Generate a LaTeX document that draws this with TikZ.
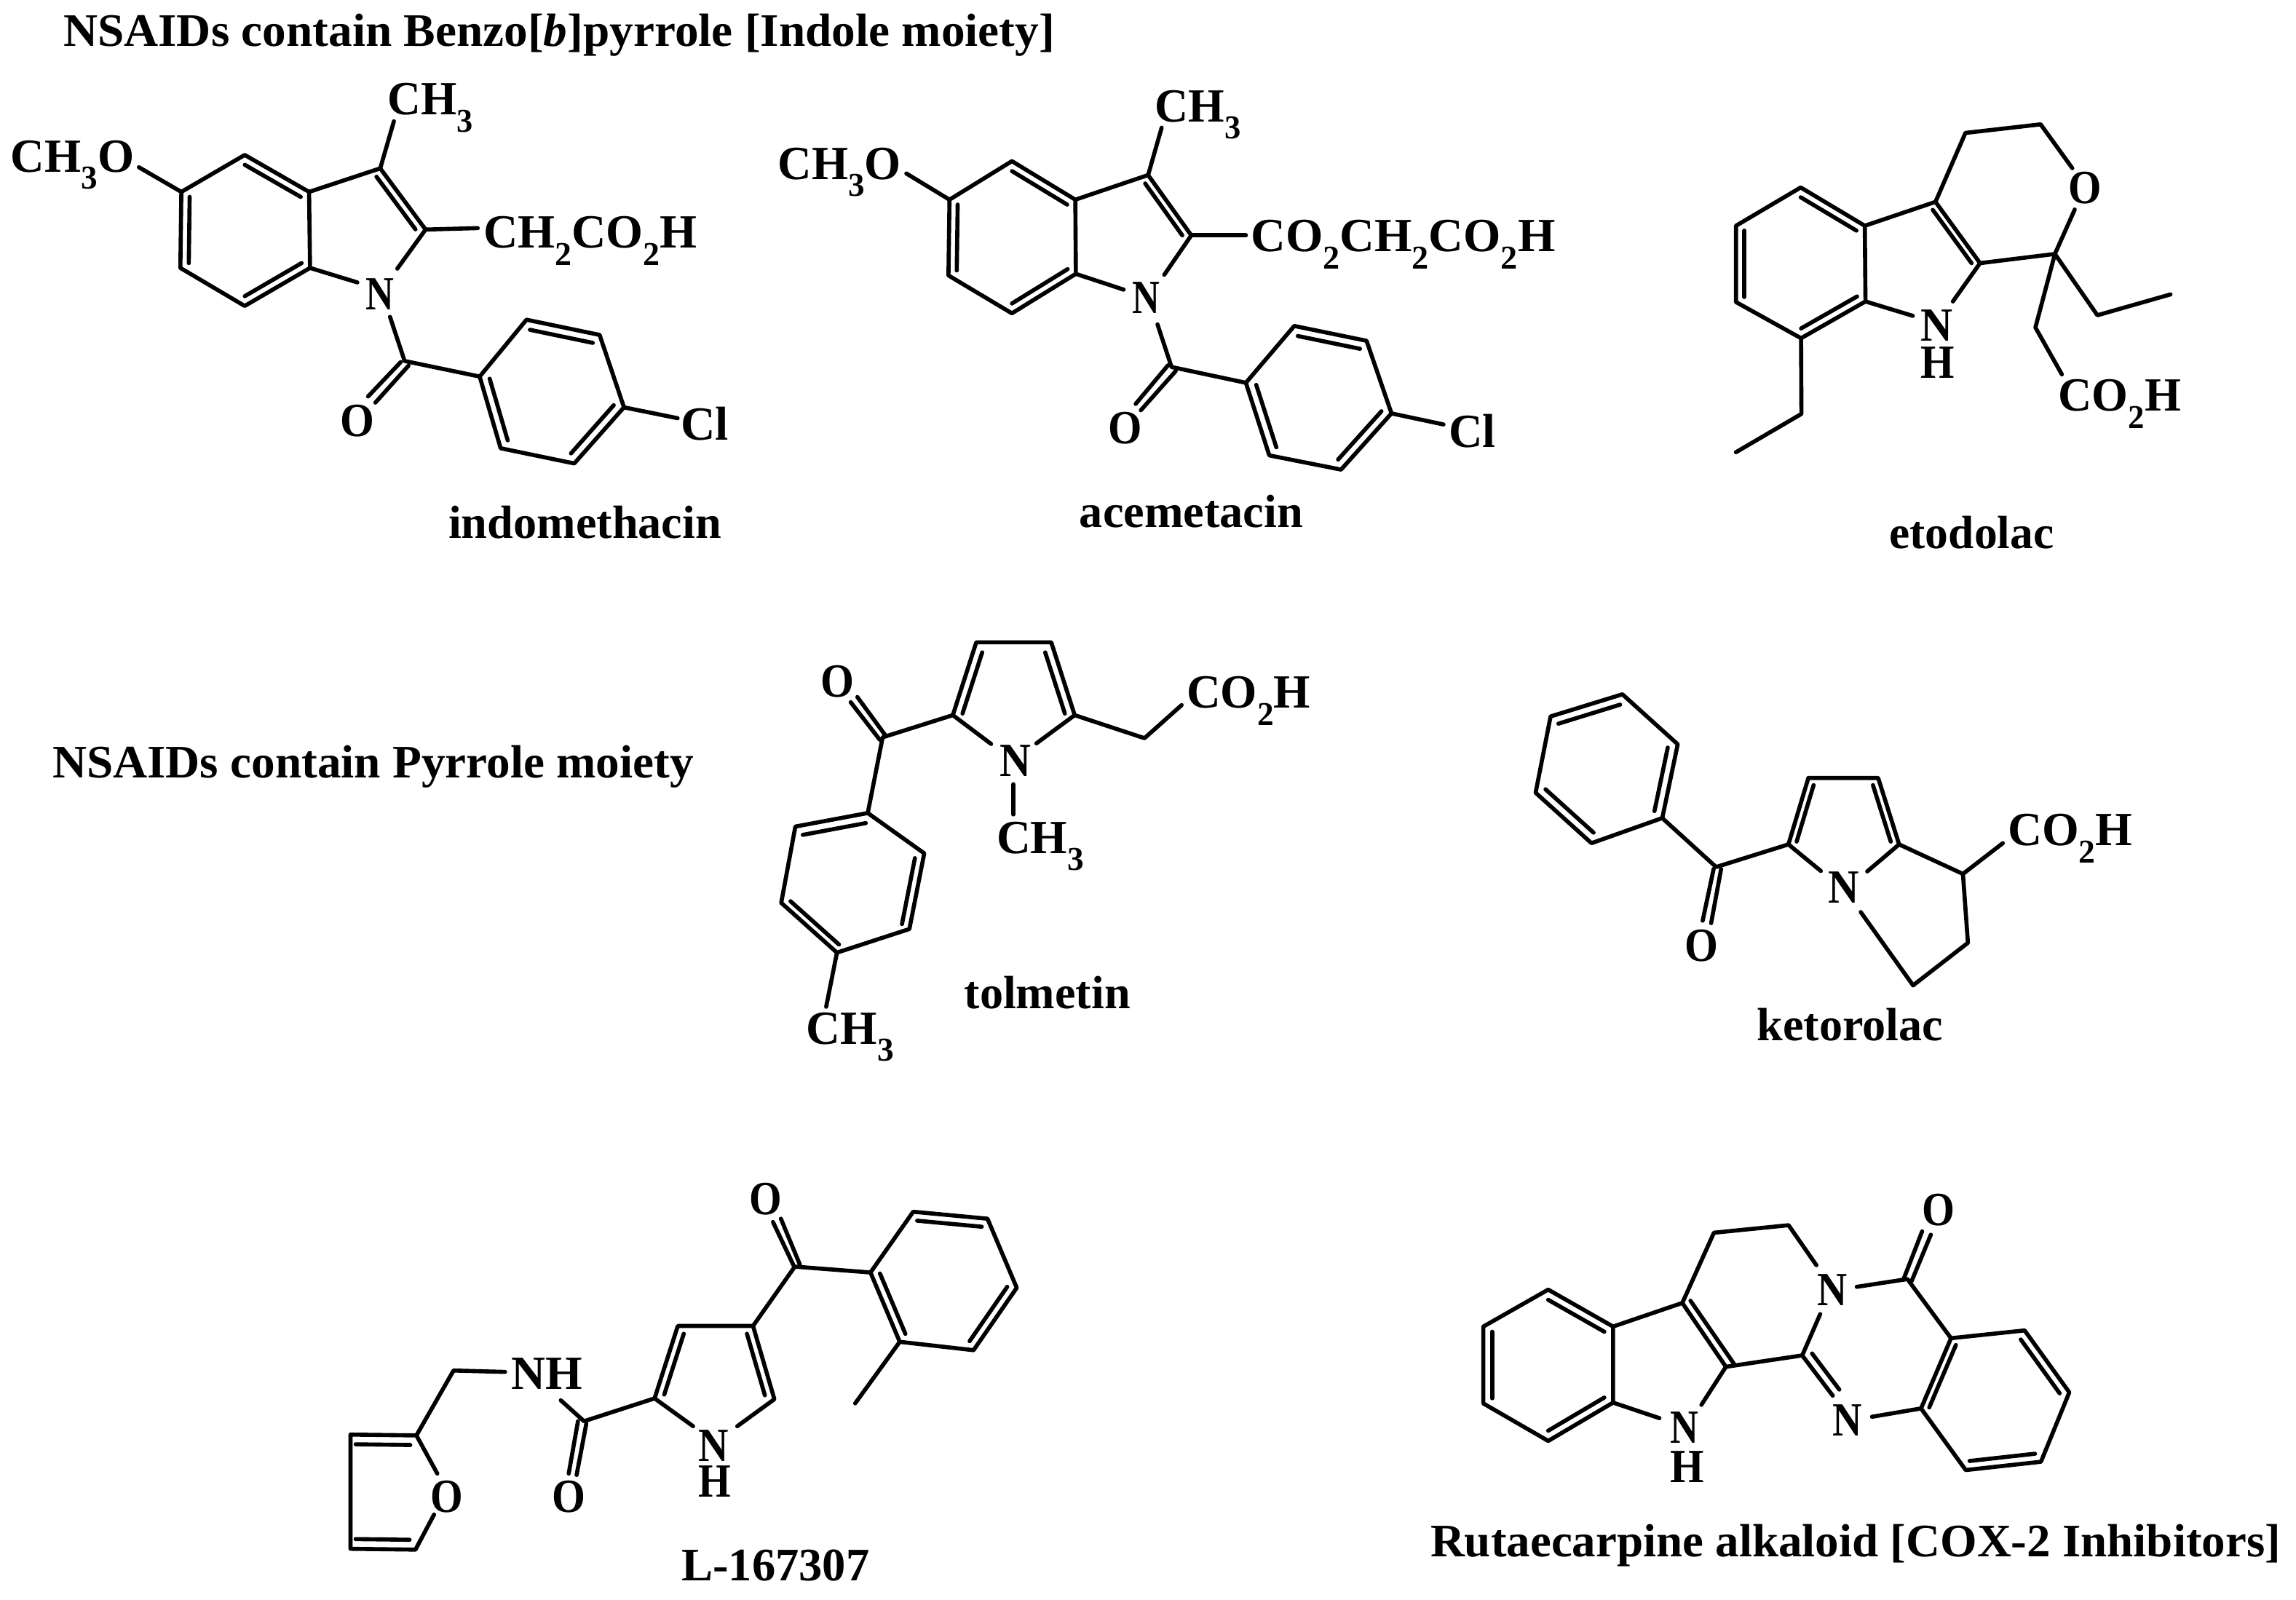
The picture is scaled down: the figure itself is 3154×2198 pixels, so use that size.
\documentclass[tikz,border=0pt]{standalone}
\usepackage{fontspec}
\usepackage{graphicx}
\usetikzlibrary{calc}
\setmainfont{Liberation Serif}
\newcommand\bd{\normalfont\bfseries}
\newcommand\sbs[1]{\raisebox{-0.36em}{\scalebox{0.7}{#1}}}
\tikzset{
  bond/.style={line width=1.6pt,line cap=round,line join=round,black},
  txt/.style={anchor=base west,inner sep=0pt,outer sep=0pt,font=\bd\fontsize{18.6}{20}\selectfont,text=black},
  namelab/.style={txt,font=\bd\fontsize{18.2}{20}\selectfont}
}
% name, x1, x2, baseline y, text  (display units of the scope; \kx = its xscale)
\newcommand\lab[6][txt]{\pgfmathsetmacro\labw{(#4-#3)*\kx*0.01}\node[#1] (#2) at (#3,#5) {\resizebox{\labw cm}{\height}{#6}};}
\newcommand\ib[4][0.87]{\draw[bond] ($(#2)!#1!(#3)$) -- ($(#2)!#1!(#4)$);}
\begin{document}
\begin{tikzpicture}[x=0.01cm,y=-0.01cm]
\useasboundingbox (0,0) rectangle (3154,2198);
\fill[white] (0,0) rectangle (3154,2198);

% ---------- indomethacin
\begin{scope}[xscale=1050/1568,yscale=780/1568]
\def\kx{0.6696}
\foreach \n/\x/\y in {ia/502/428,ib/634/530,ic/636/740,id/502/845,ie/370/740,if/372/530,ibc/503/637,
 ig/780/465,ih/873/634,ipc/725/630,ij/808/335,ik/285/462,il/980/630,im/815/742,in/733/780,io/800/875,ip/830/997,
 iq1/822/1000,iq2/755/1095,ir1/838/1010,ir2/770/1112,
 is/984/1040,it/1080/883,iu/1230/925,iv/1280/1125,iw/1178/1280,ix/1027/1238,ixc/1130/1082,iy/1390/1155}
 \coordinate (\n) at (\x,\y);
\draw[bond] (ia)--(ib)--(ic)--(id)--(ie)--(if)--cycle;
\ib{ibc}{ia}{ib}\ib{ibc}{if}{ie}\ib{ibc}{ic}{id}
\draw[bond] (ib)--(ig)--(ih)--(im);\draw[bond] (ic)--(in);
\ib[0.86]{ipc}{ig}{ih}
\draw[bond] (ig)--(ij);\draw[bond] (if)--(ik);\draw[bond] (ih)--(il);
\draw[bond] (io)--(ip)--(is);\draw[bond] (iq1)--(iq2);\draw[bond] (ir1)--(ir2);
\draw[bond] (is)--(it)--(iu)--(iv)--(iw)--(ix)--cycle;
\ib[0.86]{ixc}{it}{iu}\ib[0.86]{ixc}{is}{ix}\ib[0.86]{ixc}{iv}{iw}
\draw[bond] (iv)--(iy);
\lab[namelab]{title}{130}{2164}{127}{NSAIDs contain Benzo[\textit{b}]pyrrole [Indole moiety]}
\lab{iCH}{795}{970}{317}{CH\sbs{3}}
\lab{iOMe}{22}{275}{475}{CH\sbs{3}O}
\lab{iside}{992}{1430}{685}{CH\sbs{2}CO\sbs{2}H}
\lab{iN}{750}{808}{855}{N}
\lab{iO}{698}{768}{1205}{O}
\lab{iCl}{1397}{1495}{1215}{Cl}
\lab[namelab]{iname}{920}{1480}{1487}{indomethacin}
\end{scope}

% ---------- acemetacin
\begin{scope}[shift={(1040,90)},xscale=1120/1568,yscale=680/1568]
\def\kx{0.7143}
\foreach \n/\x/\y in {aa/490/303,ab/612/425,ac/613/660,ad/490/785,ae/368/665,af/370/425,abc/491/545,
 ag/752/347,ah/835/538,apc/711/538,aj/778/197,ak/287/342,al/940/538,am/783/663,an/705/710,ao/770/820,ap/797/955,
 aq1/790/950,aq2/728/1072,ar1/805/968,ar2/738/1092,
 as/940/1005,at/1033/825,au/1172/872,av/1220/1102,aw/1123/1280,ax/985/1235,axc/1082/1053,ay/1320/1137}
 \coordinate (\n) at (\x,\y);
\draw[bond] (aa)--(ab)--(ac)--(ad)--(ae)--(af)--cycle;
\ib{abc}{aa}{ab}\ib{abc}{af}{ae}\ib{abc}{ac}{ad}
\draw[bond] (ab)--(ag)--(ah)--(am);\draw[bond] (ac)--(an);
\ib[0.86]{apc}{ag}{ah}
\draw[bond] (ag)--(aj);\draw[bond] (af)--(ak);\draw[bond] (ah)--(al);
\draw[bond] (ao)--(ap)--(as);\draw[bond] (aq1)--(aq2);\draw[bond] (ar1)--(ar2);
\draw[bond] (as)--(at)--(au)--(av)--(aw)--(ax)--cycle;
\ib[0.86]{axc}{at}{au}\ib[0.86]{axc}{as}{ax}\ib[0.86]{axc}{av}{aw}
\draw[bond] (av)--(ay);
\lab{aCH}{765}{930}{178}{CH\sbs{3}}
\lab{aOMe}{40}{277}{360}{CH\sbs{3}O}
\lab{aside}{950}{1535}{590}{CO\sbs{2}CH\sbs{2}CO\sbs{2}H}
\lab{aN}{722}{775}{785}{N}
\lab{aO}{675}{740}{1198}{O}
\lab{aCl}{1330}{1420}{1210}{Cl}
\lab[namelab]{aname}{620}{1050}{1462}{acemetacin}
\end{scope}

% ---------- etodolac
\begin{scope}[shift={(2300,130)},xscale=750/1568,yscale=660/1568]
\def\kx{0.4783}
\foreach \n/\x/\y in {ea/363/303,eb/547/428,ec/549/675,ed/364/795,ee/177/677,ef/177/428,ebc/363/550,
 eg/750/350,eh/878/550,epc/690/550,ei/836/125,ej/1052/97,ek/1143/240,el/1150/375,em/1093/520,
 en/800/675,eo/685/722,ep/1215/720,eq/1425/652,er/1037/760,es/1113/913,et/365/1042,eu/177/1167}
 \coordinate (\n) at (\x,\y);
\draw[bond] (ea)--(eb)--(ec)--(ed)--(ee)--(ef)--cycle;
\ib{ebc}{ea}{eb}\ib{ebc}{ef}{ee}\ib{ebc}{ec}{ed}
\draw[bond] (eb)--(eg)--(eh)--(en);\draw[bond] (ec)--(eo);
\ib{epc}{eg}{eh}
\draw[bond] (eg)--(ei)--(ej)--(ek);\draw[bond] (el)--(em)--(eh);
\draw[bond] (em)--(ep)--(eq);\draw[bond] (em)--(er)--(es);
\draw[bond] (ed)--(et)--(eu);
\lab{eO}{1133}{1228}{355}{O}
\lab{eN}{708}{800}{805}{N}
\lab{eH}{708}{805}{925}{H}
\lab{eside}{1103}{1455}{1033}{CO\sbs{2}H}
\lab[namelab]{ename}{618}{1090}{1482}{etodolac}
\end{scope}

% ---------- tolmetin
\begin{scope}[shift={(1040,850)},xscale=800/1568,yscale=620/1568]
\def\kx{0.5102}
\foreach \n/\x/\y in {ta/590/82,tb/792/82,tc/855/335,td/527/335,tpc/690/300,te/630/435,tf/752/433,
 tg/338/412,th1/330/420,th2/252/290,ti1/347/408,ti2/270/272,
 tj/298/675,tk/103/722,tl/65/987,tm/215/1160,tn/410/1078,to/450/815,trc/257/944,
 tp/186/1348,tq/690/575,tr/690/680,ts/1043/415,tt/1143/300}
 \coordinate (\n) at (\x,\y);
\draw[bond] (te)--(td)--(ta)--(tb)--(tc)--(tf);
\ib[0.84]{tpc}{ta}{td}\ib[0.84]{tpc}{tb}{tc}
\draw[bond] (td)--(tg)--(tj);\draw[bond] (th1)--(th2);\draw[bond] (ti1)--(ti2);
\draw[bond] (tj)--(tk)--(tl)--(tm)--(tn)--(to)--cycle;
\ib{trc}{tj}{tk}\ib{trc}{tl}{tm}\ib{trc}{tn}{to}
\draw[bond] (tm)--(tp);\draw[bond] (tq)--(tr);\draw[bond] (tc)--(ts)--(tt);
\lab{tO}{172}{262}{272}{O}
\lab{tN}{653}{737}{547}{N}
\lab{tCH}{645}{880}{815}{CH\sbs{3}}
\lab{tCHb}{133}{368}{1478}{CH\sbs{3}}
\lab{tside}{1157}{1490}{310}{CO\sbs{2}H}
\lab[namelab]{tname}{558}{1005}{1355}{tolmetin}
\end{scope}

% ---------- ketorolac
\begin{scope}[shift={(2080,920)},xscale=1074/1568,yscale=530/1568]
\def\kx{0.685}
\foreach \n/\x/\y in {ka/217/100,kb/328/303,kc/297/603,kd/155/705,ke/43/500,kf/73/190,kbc/185/400,
 kg/405/802,kh/550/710,ki1/400/810,ki2/378/1020,kj1/415/810,kj2/395/1030,
 kk/590/440,kl/730/440,km/772/710,kpc/660/634,kn/615/818,ko/708/820,
 kp/900/830,kq/910/1110,kr/800/1283,ks/695/985,kt/980/705}
 \coordinate (\n) at (\x,\y);
\draw[bond] (ka)--(kb)--(kc)--(kd)--(ke)--(kf)--cycle;
\ib[0.86]{kbc}{ka}{kf}\ib[0.86]{kbc}{kb}{kc}\ib[0.86]{kbc}{ke}{kd}
\draw[bond] (kc)--(kg)--(kh);\draw[bond] (ki1)--(ki2);\draw[bond] (kj1)--(kj2);
\draw[bond] (kn)--(kh)--(kk)--(kl)--(km)--(ko);
\ib[0.85]{kpc}{kk}{kh}\ib[0.85]{kpc}{kl}{km}
\draw[bond] (km)--(kp)--(kq)--(kr)--(ks);\draw[bond] (kp)--(kt);
\lab{kO}{343}{410}{1185}{O}
\lab{kN}{630}{692}{948}{N}
\lab{kside}{990}{1240}{715}{CO\sbs{2}H}
\lab[namelab]{kname}{487}{860}{1507}{ketorolac}
\end{scope}

% ---------- L-167307
\begin{scope}[shift={(440,1590)},xscale=1000/1568,yscale=600/1568]
\def\kx{0.6378}
\foreach \n/\x/\y in {la/770/605,lb/932/605,lc/978/868,ld/720/865,lpc/850/780,le/803/965,lf/898/965,
 lg/1022/392,lh1/1020/390,lh2/975/232,li1/1033/385,li2/992/220,
 lj/1185/413,lk/1277/195,ll/1437/220,lm/1500/468,ln/1407/692,lo/1248/662,lrc/1342/442,lp/1152/883,
 lq/568/947,lr1/555/947,lr2/535/1135,ls1/573/955,ls2/552/1140,lt/518/872,lu/398/770,lv/287/765,
 lw/207/998,lx/65/995,ly/65/1405,lz/205/1408,lfc/130/1200,lA/252/1135,lB/245/1282}
 \coordinate (\n) at (\x,\y);
\draw[bond] (le)--(ld)--(la)--(lb)--(lc)--(lf);
\ib[0.84]{lpc}{la}{ld}\ib[0.84]{lpc}{lb}{lc}
\draw[bond] (lb)--(lg)--(lj);\draw[bond] (lh1)--(lh2);\draw[bond] (li1)--(li2);
\draw[bond] (lj)--(lk)--(ll)--(lm)--(ln)--(lo)--cycle;
\ib{lrc}{lk}{ll}\ib{lrc}{lm}{ln}\ib{lrc}{lo}{lj}
\draw[bond] (lo)--(lp);
\draw[bond] (ld)--(lq)--(lt);\draw[bond] (lr1)--(lr2);\draw[bond] (ls1)--(ls2);
\draw[bond] (lu)--(lv)--(lw)--(lx)--(ly)--(lz)--(lB);\draw[bond] (lw)--(lA);
\ib[0.83]{lfc}{lw}{lx}\ib[0.83]{lfc}{ly}{lz}
\lab{lN}{815}{880}{1090}{N}
\lab{lH}{815}{885}{1220}{H}
\lab{lO}{925}{995}{205}{O}
\lab{lOb}{500}{572}{1275}{O}
\lab{lNH}{412}{565}{833}{NH}
\lab{lOc}{237}{307}{1275}{O}
\lab[namelab]{lname}{778}{1183}{1520}{L-167307}
\end{scope}

% ---------- rutaecarpine
\begin{scope}[shift={(1980,1600)},xscale=1174/1568,yscale=598/1568]
\def\kx{0.7487}
\foreach \n/\x/\y in {ra/196/450,rb/315/583,rc/315/857,rd/196/995,re/77/860,rf/77/583,rbc/196/722,
 rg/442/498,rh/522/728,rg2/457/490,rh2/537/718,ri/477/865,rj/400/913,rk/500/245,rl/637/218,rm/688/362,
 rn/662/687,ro/695/538,rp/718/832,rq1/680/680,rq2/730/810,rs/790/908,
 rt/762/440,ru/855/412,rv1/848/412,rv2/882/240,rw1/863/418,rw2/898/252,
 rA/935/625,rB/1070/597,rC/1152/820,rD/1100/1070,rE/962/1100,rF/880/878,rrc/1016/848}
 \coordinate (\n) at (\x,\y);
\draw[bond] (ra)--(rb)--(rc)--(rd)--(re)--(rf)--cycle;
\ib[0.865]{rbc}{ra}{rb}\ib[0.865]{rbc}{rf}{re}\ib[0.865]{rbc}{rc}{rd}
\draw[bond] (rb)--(rg)--(rh)--(ri);\draw[bond] (rg2)--(rh2);\draw[bond] (rc)--(rj);
\draw[bond] (rg)--(rk)--(rl)--(rm);
\draw[bond] (rh)--(rn)--(ro);\draw[bond] (rn)--(rp);\draw[bond] (rq1)--(rq2);
\draw[bond] (rs)--(rF);\draw[bond] (rt)--(ru)--(rA);
\draw[bond] (rv1)--(rv2);\draw[bond] (rw1)--(rw2);
\draw[bond] (rA)--(rB)--(rC)--(rD)--(rE)--(rF)--cycle;
\ib{rrc}{rB}{rC}\ib{rrc}{rD}{rE}\ib[0.89]{rrc}{rF}{rA}
\lab{rN}{420}{472}{1003}{N}
\lab{rH}{420}{482}{1145}{H}
\lab{rNb}{690}{745}{508}{N}
\lab{rNc}{718}{772}{977}{N}
\lab{rO}{882}{942}{220}{O}
\lab[namelab]{rname}{-20}{1540}{1412}{Rutaecarpine alkaloid [COX-2 Inhibitors]}
\end{scope}

% ---------- second heading
\def\kx{1}
\lab[namelab]{pyrr}{72}{953}{1069}{NSAIDs contain Pyrrole moiety}
\end{tikzpicture}
\end{document}
